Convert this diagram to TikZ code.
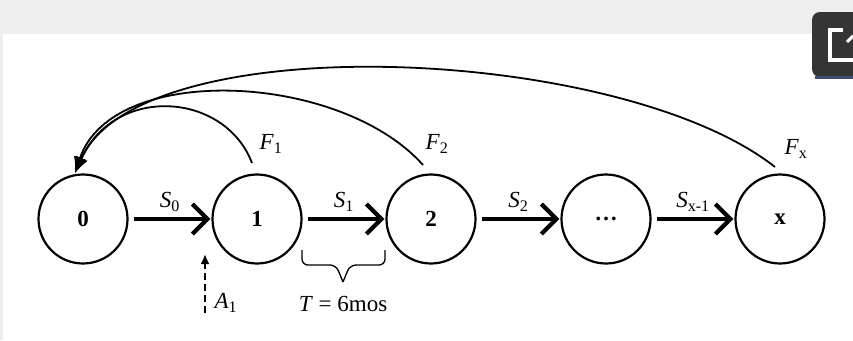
\documentclass[tikz,border=0pt]{standalone}
\usepackage{fontspec}
\setmainfont{Liberation Serif}
\usepackage{tikz}
\usetikzlibrary{arrows.meta}

\definecolor{pagegray}{HTML}{EEEEEE}
\definecolor{icondark}{HTML}{353535}
\definecolor{iconblue}{HTML}{3E4C70}

\tikzset{
    state/.style = {circle, draw, line width=2.2pt, minimum size=89pt, inner sep=0pt, font=\fontsize{23}{26}\selectfont\bfseries},
    flow/.style = {line width=4.2pt, -{Straight Barb[length=15pt,width=30pt]}, shorten <=5pt, shorten >=1pt},
    back/.style = {line width=1.8pt, -{Latex[length=16pt,width=13pt]}},
    lbl/.style = {font=\fontsize{23}{26}\selectfont}
}

\begin{document}
\begin{tikzpicture}[x=1pt, y=-1pt]
        \useasboundingbox (0,0) rectangle (853,340);
        % page
        \fill[pagegray] (0,0) rectangle (853,340);
        \fill[white] (3,34) rectangle (853,340);
        % expand icon
        \fill[icondark, rounded corners=8pt] (812,12) rectangle (870,77);
        \fill[iconblue] (815,76) rectangle (853,79);
        \draw[white, line width=4pt] (843,29.5) -- (829.5,29.5) -- (829.5,60) -- (853,60);
        \draw[white, line width=3pt] (847,42) -- (853,36);
        % states
        \node[state] (n0) at (83,219) {0};
        \node[state] (n1) at (257,219) {1};
        \node[state] (n2) at (431,219) {2};
        \node[state] (ndots) at (606,219) {\ldots};
        \node[state] (nx) at (780,219) {x};
        % survival
        \draw[flow] (n0) -- (n1) node[lbl, midway, above=2pt] {\textit{S}\textsubscript{0}};
        \draw[flow] (n1) -- (n2) node[lbl, midway, above=2pt] {\textit{S}\textsubscript{1}};
        \draw[flow] (n2) -- (ndots) node[lbl, midway, above=2pt] {\textit{S}\textsubscript{2}};
        \draw[flow] (ndots) -- (nx) node[lbl, midway, above=2pt] {\textit{S}\textsubscript{x-1}};
        % failures back to 0
        \coordinate (f0) at (75,173);
        \coordinate (f1) at (252,163);
        \coordinate (f2) at (423,165);
        \coordinate (fx) at (775,167);
        \draw[back] (f1) .. controls (225,92) and (115,84) .. (f0);
        \draw[back] (f2) .. controls (340,72) and (112,62) .. (f0);
        \draw[back] (fx) .. controls (620,45) and (140,25) .. (f0);
        \node[lbl] (lf1) at (271,144) {\textit{F}\textsubscript{1}};
        \node[lbl] (lf2) at (437,144) {\textit{F}\textsubscript{2}};
        \node[lbl] (lfx) at (796,149) {\textit{F}\textsubscript{x}};
        % arrival
        \coordinate (a1) at (205,313);
        \coordinate (a1top) at (205,254);
        \draw[dashed, line width=2pt, dash pattern=on 7pt off 4pt, -{Latex[length=10pt,width=9pt]}] (a1) -- (a1top);
        \node[lbl, anchor=west] (la1) at (211,303) {\textit{A}\textsubscript{1}};
        % period
        \draw[line width=1.3pt, rounded corners=6pt] (302,250) -- (302,265) -- (336,265) -- (343,282);
        \draw[line width=1.3pt, rounded corners=6pt] (385,250) -- (385,265) -- (350,265) -- (343,282);
        \node[lbl] (lt) at (343,304) {\textit{T} = 6mos};
    \end{tikzpicture}
\end{document}
